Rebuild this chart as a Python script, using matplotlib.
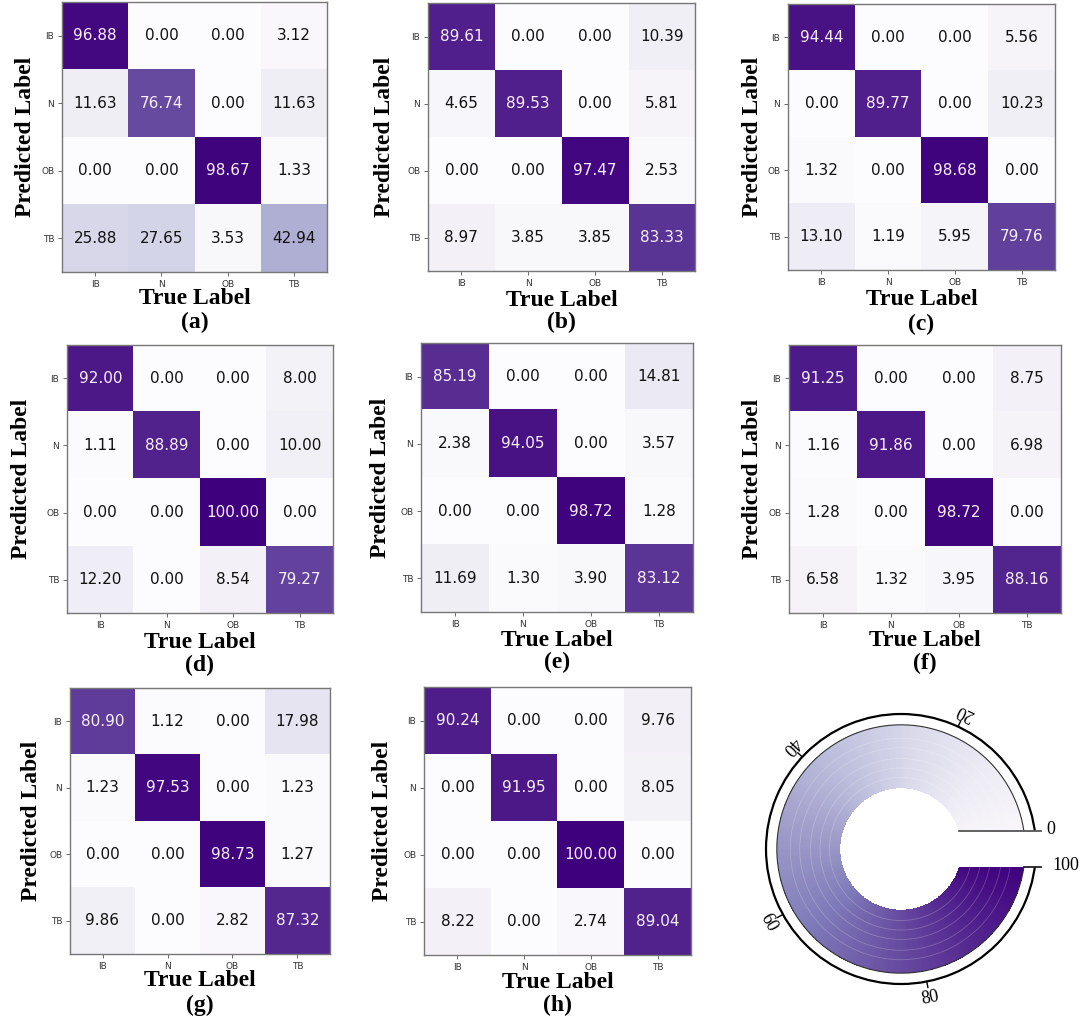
import numpy as np
import matplotlib
matplotlib.use("Agg")
import matplotlib.pyplot as plt
from matplotlib.patches import Rectangle

plt.rcParams["font.family"] = ["DejaVu Sans"]

# ---------------- data ----------------
classes = ["IB", "N", "OB", "TB"]
panel_letters = ["(a)", "(b)", "(c)", "(d)", "(e)", "(f)", "(g)", "(h)"]

cm_a = [[96.88, 0.00, 0.00, 3.12],
        [11.63, 76.74, 0.00, 11.63],
        [0.00, 0.00, 98.67, 1.33],
        [25.88, 27.65, 3.53, 42.94]]
cm_b = [[89.61, 0.00, 0.00, 10.39],
        [4.65, 89.53, 0.00, 5.81],
        [0.00, 0.00, 97.47, 2.53],
        [8.97, 3.85, 3.85, 83.33]]
cm_c = [[94.44, 0.00, 0.00, 5.56],
        [0.00, 89.77, 0.00, 10.23],
        [1.32, 0.00, 98.68, 0.00],
        [13.10, 1.19, 5.95, 79.76]]
cm_d = [[92.00, 0.00, 0.00, 8.00],
        [1.11, 88.89, 0.00, 10.00],
        [0.00, 0.00, 100.00, 0.00],
        [12.20, 0.00, 8.54, 79.27]]
cm_e = [[85.19, 0.00, 0.00, 14.81],
        [2.38, 94.05, 0.00, 3.57],
        [0.00, 0.00, 98.72, 1.28],
        [11.69, 1.30, 3.90, 83.12]]
cm_f = [[91.25, 0.00, 0.00, 8.75],
        [1.16, 91.86, 0.00, 6.98],
        [1.28, 0.00, 98.72, 0.00],
        [6.58, 1.32, 3.95, 88.16]]
cm_g = [[80.90, 1.12, 0.00, 17.98],
        [1.23, 97.53, 0.00, 1.23],
        [0.00, 0.00, 98.73, 1.27],
        [9.86, 0.00, 2.82, 87.32]]
cm_h = [[90.24, 0.00, 0.00, 9.76],
        [0.00, 91.95, 0.00, 8.05],
        [0.00, 0.00, 100.00, 0.00],
        [8.22, 0.00, 2.74, 89.04]]
matrices = [cm_a, cm_b, cm_c, cm_d, cm_e, cm_f, cm_g, cm_h]

cbar_ticks = [0, 20, 40, 60, 80, 100]

# ---------------- layout (pixels, top-down) ----------------
W, H = 1080, 1028
fig = plt.figure(figsize=(W / 100, H / 100), dpi=100)

# (left, right, top, bottom, ylabel_x, xlabel_y, letter_y)
boxes = [
    (62, 327, 2, 272, 26, 298, 322),
    (428, 695, 3, 271, 385, 300, 322),
    (788, 1055, 4, 270, 752, 299, 324),
    (67, 333, 345, 613, 22, 642, 665),
    (421, 693, 343, 612, 380, 640, 662),
    (789, 1061, 345, 613, 752, 641, 663),
    (70, 330, 688, 954, 32, 981, 1005),
    (424, 691, 687, 955, 382, 982, 1005),
]

cmap = plt.get_cmap("Purples")
serif = "Liberation Serif"

for cm, letter, (l, r, t, b, ylx, xly, lety) in zip(matrices, panel_letters, boxes):
    ax = fig.add_axes([l / W, 1 - b / H, (r - l) / W, (b - t) / H])
    arr = np.array(cm)
    ax.imshow(arr, cmap=cmap, vmin=0, vmax=100, aspect="auto")
    for i in range(arr.shape[0]):
        for j in range(arr.shape[1]):
            v = arr[i, j]
            ax.text(j, i, f"{v:.2f}", ha="center", va="center", fontsize=11,
                    family="DejaVu Sans",
                    color="#fbeefb" if v > 50 else "#111111")
    ax.set_xticks(range(len(classes)))
    ax.set_yticks(range(len(classes)))
    ax.set_xticklabels(classes)
    ax.set_yticklabels(classes)
    ax.tick_params(labelsize=6.5, length=3, width=0.6, colors="#555555",
                   labelcolor="#333333", pad=2.5)
    for s in ax.spines.values():
        s.set_color("#777777")
        s.set_linewidth(1.0)
    cx = (l + r) / 2
    cy = (t + b) / 2
    fig.text(ylx / W, 1 - cy / H, "Predicted Label", rotation=90, ha="center",
             va="center", fontsize=17, fontweight="bold", family=serif)
    fig.text(cx / W, 1 - xly / H, "True Label", ha="center", va="center",
             fontsize=17, fontweight="bold", family=serif)
    fig.text(cx / W, 1 - lety / H, letter, ha="center", va="center",
             fontsize=17, fontweight="bold", family=serif)

# ---------------- polar colour ring ----------------
pcx, pcy, prad = 901, 849, 135
pax = fig.add_axes([(pcx - prad) / W, 1 - (pcy + prad) / H, 2 * prad / W, 2 * prad / H],
                   projection="polar")
offset = np.deg2rad(-7.0)
r_in, r_out = 0.45, 0.92


def ang(v):
    return offset + 2 * np.pi * v / 100.0


vals = np.linspace(0, 100, 361)
th_edges = ang(vals)
r_edges = np.array([r_in, r_out])
mid = ((vals[:-1] + vals[1:]) / 2)[None, :]
pax.pcolormesh(th_edges, r_edges, mid, cmap=cmap, vmin=0, vmax=100,
               shading="flat", antialiased=False)
pax.set_ylim(0, 1)
pax.set_xticks([])
pax.set_yticks([0.53, 0.60, 0.67, 0.75, 0.82])
pax.set_yticklabels([])
pax.grid(True, color="white", alpha=0.22, linewidth=0.6)
pax.spines["polar"].set_linewidth(1.6)
pax.spines["polar"].set_color("black")

# outer edge of ring
tt = np.linspace(0, 2 * np.pi, 400)
pax.plot(tt, np.full_like(tt, r_out), color="#333333", lw=0.8)

# tick marks and labels along the rim
for v in cbar_ticks[1:-1]:
    a = ang(v)
    pax.plot([a, a], [1.0, 1.045], color="black", lw=1.0, clip_on=False)
    pax.text(a, 1.12, str(v), ha="center", va="center", fontsize=13,
             family=serif, rotation=np.rad2deg(a) + 90, rotation_mode="anchor")

# slot separating the two ends of the scale
slot_half = 18 / (2 * prad)
hole_x = 0.5 + np.sqrt((r_in * 0.5) ** 2 - slot_half ** 2)
out_x = 0.5 + np.sqrt((r_out * 0.5) ** 2 - slot_half ** 2)
pax.add_patch(Rectangle((0.62, 0.5 - slot_half), 0.42, 2 * slot_half,
                        transform=pax.transAxes, facecolor="white",
                        edgecolor="none", zorder=3, clip_on=False))
pax.plot([hole_x, 1.02], [0.5 + slot_half] * 2, color="#555555", lw=1.3,
         transform=pax.transAxes, clip_on=False, zorder=4)
pax.plot([out_x, 1.02], [0.5 - slot_half] * 2, color="#222222", lw=1.3,
         transform=pax.transAxes, clip_on=False, zorder=4)
pax.text(1.04, 0.5 + slot_half + 0.004, str(cbar_ticks[0]), ha="left",
         va="center", fontsize=13, family=serif, transform=pax.transAxes, zorder=5)
pax.text(1.06, 0.5 - slot_half + 0.004, str(cbar_ticks[-1]), ha="left",
         va="center", fontsize=13, family=serif, transform=pax.transAxes, zorder=5)

fig.savefig("out.png", dpi=100)
